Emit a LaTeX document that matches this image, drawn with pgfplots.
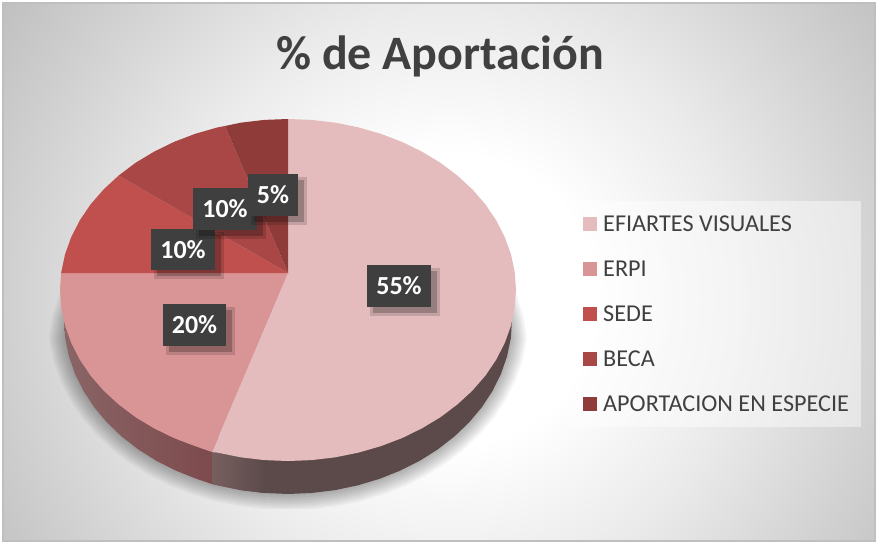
\documentclass[border=0pt]{standalone}
\usepackage{fontspec}
\setmainfont{Carlito}
\usepackage{pgfplots}
\usepackage{pgfplotstable}
\pgfplotsset{compat=1.18}
\definecolor{cA}{HTML}{E4BCBD}
\definecolor{cB}{HTML}{D99596}
\definecolor{cC}{HTML}{C0504D}
\definecolor{cD}{HTML}{A84745}
\definecolor{cE}{HTML}{8F3B39}
\definecolor{boxc}{HTML}{3F3F3F}
\definecolor{txt}{HTML}{404040}
\pgfdeclareradialshading{chartbg}{\pgfpointorigin}{
 color(0bp)=(white); color(7bp)=(white); color(14bp)=(white!92!black);
 color(21bp)=(white!82!black); color(26bp)=(white!75!black); color(50bp)=(white!75!black)}
\pgfplotstableread{
x y
76 295
68 320
65.2 338.2
68.9 356.2
75 373.8
83.4 390.8
94 407
106.8 422.3
121.5 436.4
138.1 449.3
156.3 460.8
176 470.7
196.9 479
218.8 485.5
241.4 490.2
264.6 493
288 494
311.4 493
334.6 490.2
357.2 485.5
379.1 479
400 470.7
419.7 460.8
437.9 449.3
454.5 436.4
469.2 422.3
482 407
492.6 390.8
501 373.8
507.1 356.2
510.8 338.2
508 320
500 295
}\shadowarc
\newcommand{\lbl}[5]{% xl yt xr yb text
 \fill[black,opacity=.14] (axis cs:#1+3,#2+3) rectangle (axis cs:#3+9,#4+9);
 \fill[black,opacity=.22] (axis cs:#1+6,#2+6) rectangle (axis cs:#3+6,#4+6);
 \fill[boxc] (axis cs:#1,#2) rectangle (axis cs:#3,#4);
 \node[text=white,font=\fontsize{26}{26}\selectfont\bfseries] at (axis cs:{(#1+#3)/2},{(#2+#4)/2}) {#5};
}
\begin{document}
\begin{tikzpicture}[x=1pt,y=1pt]
\useasboundingbox (0,0) rectangle (877,543);
\begin{scope}
\clip (3,2) rectangle (875,540);
\fill[shading=chartbg] (450-520,543-300-520) rectangle (450+520,543-300+520);
\end{scope}
\draw[white!75!black,line width=1.6pt] (3,2) rectangle (875,540);

% soft shadow of the pie, cut off at its box
\begin{axis}[at={(0pt,35pt)},anchor=south west,scale only axis,width=877pt,height=213pt,
 xmin=0,xmax=877,ymin=295,ymax=508,y dir=reverse,axis lines=none]
\pgfplotsinvokeforeach{4,8,12,16,20,24,28,32}{
 \addplot[black,opacity=.04,line width=#1pt,line join=round] table {\shadowarc};
}
\end{axis}

\begin{axis}[at={(0pt,0pt)},anchor=south west,scale only axis,width=877pt,height=543pt,
 xmin=0,xmax=877,ymin=0,ymax=543,y dir=reverse,axis lines=none,clip=false,
 legend style={at={(axis cs:571,201)},anchor=north west,draw=none,fill=white,fill opacity=.45,text opacity=1,
  inner xsep=12pt,inner ysep=16pt,row sep=31pt,
  font=\fontsize{24.2}{24.2}\selectfont,text=txt,
  nodes={inner sep=0pt,text height=14pt,text depth=0pt}},
 legend cell align=left,
 legend image code/.code={\path[fill=none,draw=none] (0pt,-7pt) rectangle (20pt,7pt);\fill[#1,fill opacity=1] (0pt,-7pt) rectangle (14pt,7pt);}]

% side walls
\addplot[forget plot,draw=none,shade,left color={rgb,255:red,138;green,101;blue,102},right color={rgb,255:red,125;green,74;blue,77}] coordinates {
(64,320)(65.2,338.2)(68.9,356.2)(75,373.8)(83.4,390.8)(94,407)(106.8,422.3)(121.5,436.4)(138.1,449.3)(156.3,460.8)(176,470.7)(196.9,479)(212,484)(212,440)(100,320)};
\addplot[forget plot,draw=none,fill={rgb,255:red,92;green,74;blue,74}] coordinates {
(212,484)(218.8,485.5)(241.4,490.2)(264.6,493)(288,494)(311.4,493)(334.6,490.2)(357.2,485.5)(379.1,479)(400,470.7)(419.7,460.8)(437.9,449.3)(454.5,436.4)(469.2,422.3)(482,407)(492.6,390.8)(501,373.8)(507.1,356.2)(510.8,338.2)(512,320)(480,320)(212,440)};
\addplot[forget plot,draw=none,shade,left color={rgb,255:red,120;green,95;blue,95},right color={rgb,255:red,92;green,74;blue,74}] coordinates {
(212,484)(218.8,485.5)(241.4,490.2)(264.6,493)(264.6,440)(212,440)};

% top face
\addplot[fill=cA,draw=none] coordinates {
(288,273)(288,119)(311.8,119.9)(335.4,122.7)(358.5,127.4)(380.7,133.8)(402,141.9)(422,151.7)(440.6,162.9)(457.4,175.6)(472.5,189.5)(485.5,204.5)(496.3,220.5)(504.8,237.2)(511,254.4)(514.7,272.1)(516,290)(514.7,307.9)(511,325.6)(504.8,342.8)(496.3,359.5)(485.5,375.5)(472.5,390.5)(457.4,404.4)(440.6,417.1)(422,428.3)(402,438.1)(380.7,446.2)(358.5,452.6)(335.4,457.3)(311.8,460.1)(288,461)(264.2,460.1)(240.6,457.3)(217.5,452.6)(212,452)};
\addlegendentry{EFIARTES VISUALES}
\addplot[fill=cB,draw=none] coordinates {
(288,273)(212,452)(195.3,446.2)(174,438.1)(154,428.3)(135.4,417.1)(118.6,404.4)(103.5,390.5)(90.5,375.5)(79.7,359.5)(71.2,342.8)(65,325.6)(61.3,307.9)(60,290)(61,273)};
\addlegendentry{ERPI}
\addplot[fill=cC,draw=none] coordinates {
(288,273)(61,273)(61.3,272.1)(65,254.4)(71.2,237.2)(79.7,220.5)(90.5,204.5)(103.5,189.5)(118.6,175.6)};
\addlegendentry{SEDE}
\addplot[fill=cD,draw=none] coordinates {
(288,273)(118.6,175.6)(135.4,162.9)(154,151.7)(174,141.9)(195.3,133.8)(217.5,127.4)(225,126)};
\addlegendentry{BECA}
\addplot[fill=cE,draw=none] coordinates {
(288,273)(225,126)(240.6,122.7)(264.2,119.9)(288,119)};
\addlegendentry{APORTACION EN ESPECIE}

\lbl{367}{265}{431}{307}{55\%}
\lbl{163}{304}{226}{346}{20\%}
\lbl{151}{229}{215}{270}{10\%}
\lbl{193}{188}{257}{230}{10\%}
\lbl{248}{174}{298}{216}{5\%}

\node[text=txt,font=\fontsize{48}{48}\selectfont\bfseries] at (axis cs:440,56) {\% de Aportación};
\end{axis}
\end{tikzpicture}
\end{document}
